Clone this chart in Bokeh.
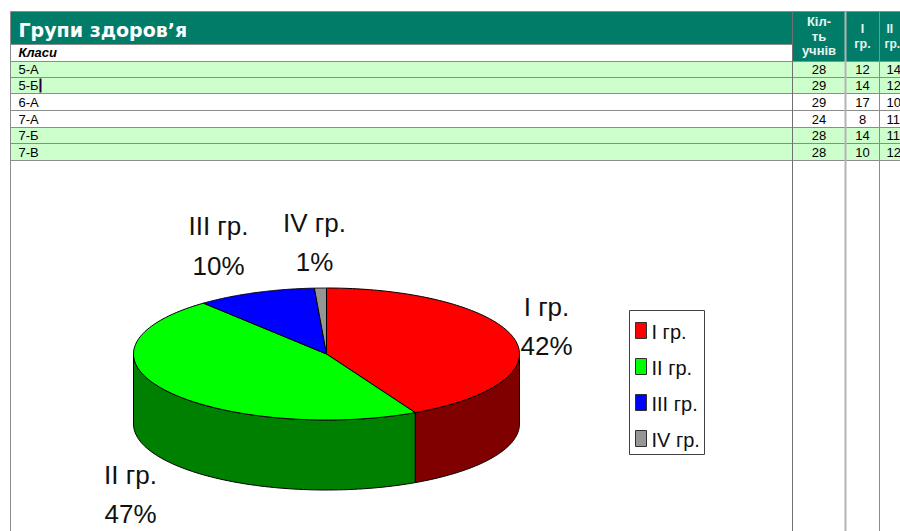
import numpy as np
from bokeh.plotting import figure
from bokeh.models import Range1d
from bokeh.core.properties import value
from bokeh.embed import file_html
from bokeh.resources import INLINE

# ---- data ----
title = "Групи здоров’я"
row_header = "Класи"
classes = ["5-А", "5-Б", "6-А", "7-А", "7-Б", "7-В"]
pupils = [28, 29, 29, 24, 28, 28]
group1 = [12, 14, 17, 8, 14, 10]
group2 = [14, 12, 10, 11, 11, 12]
row_tint = [True, True, False, False, True, True]
pie_labels = ["I гр.", "II гр.", "III гр.", "IV гр."]
pie_values = [42.4, 46.6, 10, 1]
pie_colors = ["#FF0000", "#00FF00", "#0000FF", "#969696"]
side_colors = ["#800000", "#008000", "#000080", "#4B4B4B"]

# ---- layout ----
W, H = 900, 531
p = figure(width=W, height=H, output_backend="svg", toolbar_location=None,
           x_range=Range1d(0, W), y_range=Range1d(H, 0),
           x_axis_type=None, y_axis_type=None, min_border=0, outline_line_color=None,
           background_fill_color="white", border_fill_color="white")
p.grid.visible = False

SANS = value("Liberation Sans")
TEAL = "#007C68"
GRID = "#8C8C8C"

def put(x, y, s, size, color="black", align="left", style="normal", font=SANS):
    p.text(x=[x], y=[y], text=[s], text_font=font, text_font_size=size, text_color=color,
           text_align=align, text_baseline="middle", text_font_style=style)

L, C1, C2, C3, R = 10, 792, 845, 879, 900
row_edges = [61, 77, 93, 110, 127, 143, 160]

# header band
p.quad(left=[L], right=[C1], top=[11], bottom=[44], fill_color=TEAL, line_color=None)
p.quad(left=[C1], right=[R], top=[11], bottom=[61], fill_color=TEAL, line_color=None)
put(18, 29, title, "19px", "white", style="bold", font=value("DejaVu Sans"))
put(18, 52, row_header, "13px", style="bold italic")

# rows
for i, name in enumerate(classes):
    top, bot = row_edges[i], row_edges[i + 1]
    if row_tint[i]:
        p.quad(left=[L], right=[R], top=[top], bottom=[bot], fill_color="#CCFFCC", line_color=None)
    mid = (top + bot) / 2
    put(18, mid, name, "13px")
    put((C1 + C2) / 2, mid, str(pupils[i]), "13px", align="center")
    put((C2 + C3) / 2, mid, str(group1[i]), "13px", align="center")
    put(886, mid, str(group2[i]), "13px")

# grid lines
p.line([L, R], [11, 11], line_color=GRID, line_width=1)
p.line([L, C1], [44, 44], line_color=GRID, line_width=1)
for y in row_edges:
    p.line([L, R], [y, y], line_color=GRID, line_width=1)
p.line([L, L], [11, 531], line_color=GRID, line_width=1)
p.line([C1, C1], [11, 531], line_color="#707070", line_width=1)
p.line([C2, C2], [11, 531], line_color="#B4B4B4", line_width=2)
p.line([C3, C3], [11, 531], line_color="#8C8C8C", line_width=1)

# column headers
for y, s in [(21, "Кіл-"), (36, "ть"), (50, "учнів")]:
    put((C1 + C2) / 2, y, s, "13px", "#E8F4F0", "center", style="bold")
put((C2 + C3) / 2, 28, "I", "12.5px", "#E8F4F0", "center", style="bold")
put((C2 + C3) / 2, 43, "гр.", "12.5px", "#E8F4F0", "center", style="bold")
put(886, 28, "II", "12px", "#E8F4F0", style="bold")
put(884, 43, "гр.", "12px", "#E8F4F0", style="bold")
# spell-check squiggles and cell cursor
p.line([807, 830], [27, 27], line_color="#D02020", line_width=1, line_dash="2 1")
p.line([812, 825], [41, 41], line_color="#D02020", line_width=1, line_dash="2 1")
p.line([40, 40], [78, 92], line_color="#200040", line_width=2)

# ---- 3-D pie ----
cx, cy, rx, ry, depth = 326, 353.5, 193, 66, 70
total = sum(pie_values)
edges = 2 * np.pi * np.cumsum([0] + pie_values) / total

def ellipse(t, dy=0.0):
    return cx + rx * np.sin(t), cy - ry * np.cos(t) + dy

for i in range(len(pie_values)):
    a, b = max(edges[i], np.pi / 2), min(edges[i + 1], 3 * np.pi / 2)
    if a >= b:
        continue
    t = np.linspace(a, b, 80)
    x0, y0 = ellipse(t)
    x1, y1 = ellipse(t[::-1], depth)
    p.patch(np.r_[x0, x1], np.r_[y0, y1], fill_color=side_colors[i], line_color="black", line_width=1)
for i in range(len(pie_values)):
    t = np.linspace(edges[i], edges[i + 1], 120)
    x0, y0 = ellipse(t)
    p.patch(np.r_[cx, x0], np.r_[cy, y0], fill_color=pie_colors[i], line_color="black", line_width=1)

# pie labels
label_pos = [(546, 306, 345), (130, 474, 513), (218, 225, 265), (314, 222, 261)]
for (x, y1, y2), name, v in zip(label_pos, pie_labels, pie_values):
    put(x, y1, name, "26px", "#111111", "center")
    put(x, y2, f"{round(v)}%", "26px", "#111111", "center")

# ---- legend ----
p.quad(left=[629], right=[704], top=[310], bottom=[454], fill_color="white", line_color="#404040", line_width=1)
for i, (name, c) in enumerate(zip(pie_labels, pie_colors)):
    ym = 330 + i * 36
    p.quad(left=[635], right=[646], top=[ym - 8], bottom=[ym + 8], fill_color=c, line_color="#303030", line_width=1)
    put(651, ym + 1, name, "20px", "#111111")

open("out.html", "w").write(file_html(p, INLINE))
